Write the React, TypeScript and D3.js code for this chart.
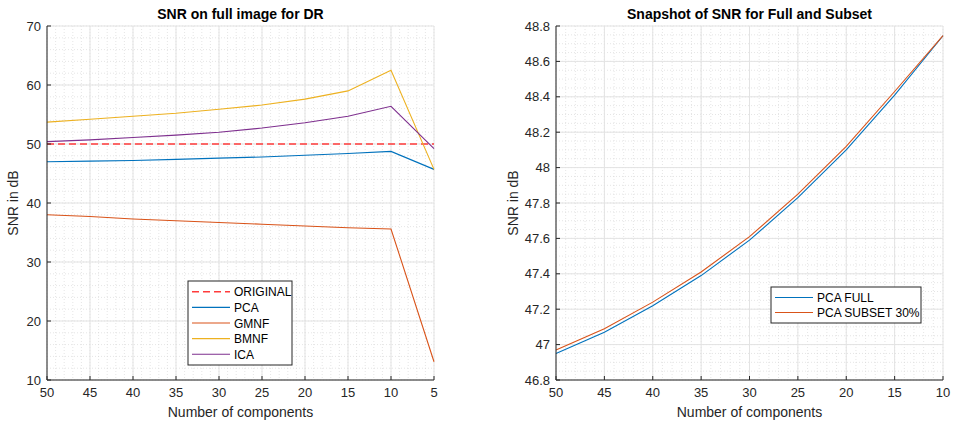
import React from 'react';
import * as d3 from 'd3';

// left plot data
const components = [50, 45, 40, 35, 30, 25, 20, 15, 10, 5];
const original = [50, 50, 50, 50, 50, 50, 50, 50, 50, 50];
const pca = [47.0, 47.1, 47.2, 47.4, 47.6, 47.8, 48.1, 48.4, 48.75, 45.7];
const gmnf = [38.0, 37.7, 37.3, 37.0, 36.7, 36.4, 36.1, 35.8, 35.6, 13.1];
const bmnf = [53.7, 54.2, 54.7, 55.2, 55.9, 56.6, 57.6, 59.0, 62.5, 45.7];
const ica = [50.4, 50.7, 51.1, 51.5, 52.0, 52.7, 53.6, 54.7, 56.4, 49.2];

// right plot data
const subsetComponents = [50, 45, 40, 35, 30, 25, 20, 15, 10];
const pcaFull = [46.95, 47.07, 47.22, 47.39, 47.59, 47.83, 48.1, 48.41, 48.745];
const pcaSubset = [46.97, 47.09, 47.24, 47.41, 47.61, 47.85, 48.12, 48.43, 48.745];

const leftXTicks = [50, 45, 40, 35, 30, 25, 20, 15, 10, 5];
const leftYTicks = [10, 20, 30, 40, 50, 60, 70];
const rightXTicks = [50, 45, 40, 35, 30, 25, 20, 15, 10];
const rightYTicks = [46.8, 47, 47.2, 47.4, 47.6, 47.8, 48, 48.2, 48.4, 48.6, 48.8];

const FONT = '"Liberation Sans", Arial, sans-serif';
const TEXT = '#262626';

type Series = { name: string; values: number[]; color: string; dash?: string; width?: number };

function Panel(props: {
  left: number; right: number; top: number; bottom: number;
  xDomain: [number, number]; yDomain: [number, number];
  xTicks: number[]; yTicks: number[]; xMinor: number; yMinor: number;
  xs: number[]; series: Series[]; title: string; yLabelX: number;
  legend: { x: number; y: number; w: number; rowH: number };
}) {
  const { left, right, top, bottom, xs, series } = props;
  const x = d3.scaleLinear().domain(props.xDomain).range([left, right]);
  const y = d3.scaleLinear().domain(props.yDomain).range([bottom, top]);
  const xMinorTicks = d3.range(Math.min(...props.xDomain), Math.max(...props.xDomain) + 1e-9, props.xMinor);
  const yMinorTicks = d3.range(props.yDomain[0], props.yDomain[1] + 1e-9, props.yMinor);
  const line = (vals: number[]) =>
    d3.line<number>().x((_, i) => x(xs[i])).y((v) => y(v))(vals) || '';
  const fmt = (v: number) => String(+v.toFixed(2));
  const { legend } = props;
  return (
    <g>
      {xMinorTicks.map((t, i) => (
        <line key={'xm' + i} x1={x(t)} x2={x(t)} y1={top} y2={bottom} stroke="#d4d4d4" strokeWidth={0.6} strokeDasharray="1,2" />
      ))}
      {yMinorTicks.map((t, i) => (
        <line key={'ym' + i} x1={left} x2={right} y1={y(t)} y2={y(t)} stroke="#d4d4d4" strokeWidth={0.6} strokeDasharray="1,2" />
      ))}
      {props.xTicks.map((t) => (
        <line key={'xg' + t} x1={x(t)} x2={x(t)} y1={top} y2={bottom} stroke="#e3e3e3" strokeWidth={1} />
      ))}
      {props.yTicks.map((t) => (
        <line key={'yg' + t} x1={left} x2={right} y1={y(t)} y2={y(t)} stroke="#e3e3e3" strokeWidth={1} />
      ))}
      {series.map((s) => (
        <path key={s.name} d={line(s.values)} fill="none" stroke={s.color} strokeWidth={s.width || 1.1} strokeDasharray={s.dash} />
      ))}
      <line x1={left} x2={left} y1={top} y2={bottom} stroke={TEXT} strokeWidth={1} />
      <line x1={left} x2={right} y1={bottom} y2={bottom} stroke={TEXT} strokeWidth={1} />
      {props.xTicks.map((t) => (
        <g key={'xt' + t}>
          <line x1={x(t)} x2={x(t)} y1={bottom} y2={bottom - 4} stroke={TEXT} />
          <text x={x(t)} y={bottom + 17} textAnchor="middle" fontSize={13} fill={TEXT}>{fmt(t)}</text>
        </g>
      ))}
      {props.yTicks.map((t) => (
        <g key={'yt' + t}>
          <line x1={left} x2={left + 4} y1={y(t)} y2={y(t)} stroke={TEXT} />
          <text x={left - 6} y={y(t) + 4.5} textAnchor="end" fontSize={13} fill={TEXT}>{fmt(t)}</text>
        </g>
      ))}
      <text x={(left + right) / 2} y={19} textAnchor="middle" fontSize={14} fontWeight="bold" fill="#000">{props.title}</text>
      <text x={(left + right) / 2} y={417} textAnchor="middle" fontSize={14} fill={TEXT}>Number of components</text>
      <text transform={`translate(${props.yLabelX},${(top + bottom) / 2}) rotate(-90)`} textAnchor="middle" fontSize={14} fill={TEXT}>SNR in dB</text>
      <rect x={legend.x} y={legend.y} width={legend.w} height={series.length * legend.rowH + 6} fill="#fff" stroke={TEXT} strokeWidth={1} />
      {series.map((s, i) => {
        const cy = legend.y + 3 + legend.rowH * (i + 0.5);
        return (
          <g key={'lg' + s.name}>
            <line x1={legend.x + 4} x2={legend.x + 42} y1={cy} y2={cy} stroke={s.color} strokeWidth={s.width || 1.1} strokeDasharray={s.dash} />
            <text x={legend.x + 46} y={cy + 4.5} fontSize={12} fill="#000">{s.name}</text>
          </g>
        );
      })}
    </g>
  );
}

export default function App() {
  const leftSeries: Series[] = [
    { name: 'ORIGINAL', values: original, color: '#ff3b3b', dash: '7,4', width: 1.5 },
    { name: 'PCA', values: pca, color: '#0072BD' },
    { name: 'GMNF', values: gmnf, color: '#D95319' },
    { name: 'BMNF', values: bmnf, color: '#EDB120' },
    { name: 'ICA', values: ica, color: '#7E2F8E' },
  ];
  const rightSeries: Series[] = [
    { name: 'PCA FULL', values: pcaFull, color: '#0072BD' },
    { name: 'PCA SUBSET 30%', values: pcaSubset, color: '#D95319' },
  ];
  return (
    <svg width={957} height={424} style={{ position: 'absolute', left: 0, top: 0, fontFamily: FONT, background: '#fff' }}>
      <rect width={957} height={424} fill="#fff" />
      <Panel
        left={47} right={434} top={26} bottom={380}
        xDomain={[50, 5]} yDomain={[10, 70]}
        xTicks={leftXTicks} yTicks={leftYTicks} xMinor={1} yMinor={2}
        xs={components} series={leftSeries} title="SNR on full image for DR" yLabelX={18}
        legend={{ x: 188, y: 281, w: 104, rowH: 15.6 }}
      />
      <Panel
        left={556} right={943} top={26} bottom={380}
        xDomain={[50, 10]} yDomain={[46.8, 48.8]}
        xTicks={rightXTicks} yTicks={rightYTicks} xMinor={1} yMinor={0.05}
        xs={subsetComponents} series={rightSeries} title="Snapshot of SNR for Full and Subset" yLabelX={518}
        legend={{ x: 771, y: 287, w: 150, rowH: 15 }}
      />
    </svg>
  );
}
